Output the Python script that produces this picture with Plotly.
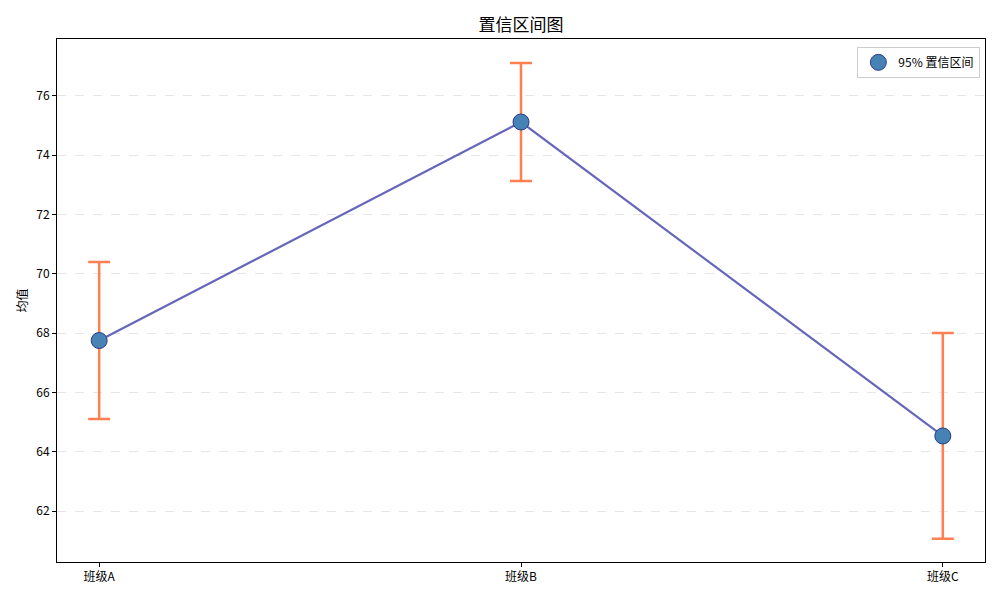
import plotly.graph_objects as go

# data
groups = ["班级A", "班级B", "班级C"]
means = [67.75, 75.12, 64.53]
ci_half = [2.65, 1.99, 3.47]
y_ticks = [62, 64, 66, 68, 70, 72, 74, 76]

font_cn = "Noto Sans CJK SC"

fig = go.Figure()

# connecting line
fig.add_trace(go.Scatter(
    x=groups, y=means, mode="lines",
    line=dict(color="#6666BB", width=2.2),
    showlegend=False, hoverinfo="skip",
))

# means with 95% CI
fig.add_trace(go.Scatter(
    x=groups, y=means, mode="markers",
    name="95% 置信区间",
    marker=dict(color="#4682B4", size=16, line=dict(color="#2B3A8C", width=1)),
    error_y=dict(type="data", array=ci_half, visible=True,
                 color="#FF7F50", thickness=2.5, width=11),
))

# page body has an 8px margin, so the margins are shifted to compensate
fig.update_layout(
    width=1000, height=600,
    margin=dict(l=49, r=23, t=31, b=46),
    paper_bgcolor="white", plot_bgcolor="white",
    font=dict(family=font_cn, size=12, color="black"),
    title=dict(text="置信区间图", x=0.5, xref="paper", xanchor="center",
               y=0.972, yanchor="middle",
               font=dict(size=17, family=font_cn, color="black")),
    legend=dict(x=0.995, y=0.985, xanchor="right", yanchor="top",
                bgcolor="rgba(255,255,255,0.8)", bordercolor="#CCCCCC", borderwidth=1,
                font=dict(size=12), itemwidth=30),
    showlegend=True,
)

fig.update_xaxes(
    type="category", range=[-0.1, 2.1], automargin=False,
    showline=True, linecolor="black", linewidth=1, mirror=True,
    ticks="outside", ticklen=4, tickcolor="black",
    showgrid=False, zeroline=False, tickfont=dict(size=12),
)
fig.update_yaxes(
    range=[60.28, 77.92], tickvals=y_ticks, automargin=False,
    showline=True, linecolor="black", linewidth=1, mirror=True,
    ticks="outside", ticklen=4, tickcolor="black",
    showgrid=True, gridcolor="#E6E6E6", griddash="dash", gridwidth=1,
    zeroline=False, tickfont=dict(size=12),
    title=dict(text="均值", font=dict(size=12), standoff=6),
)

fig.write_html("out.html")
